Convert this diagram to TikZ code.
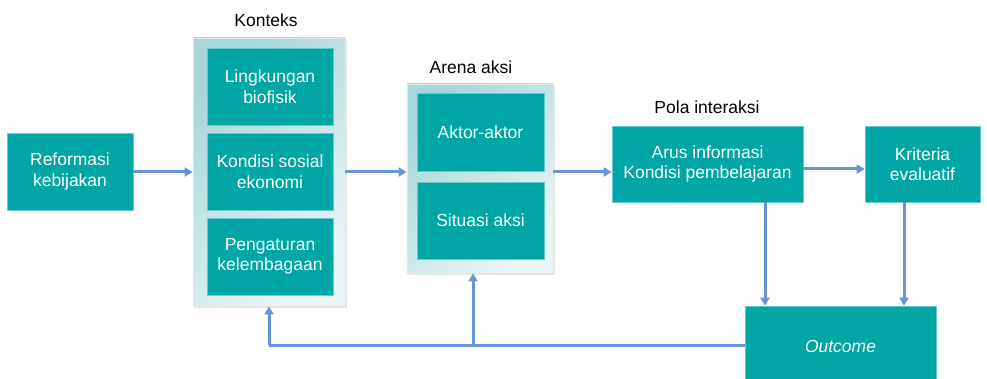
\documentclass[tikz,border=0pt]{standalone}
\usepackage{fontspec}
\setmainfont{Liberation Sans}
\usetikzlibrary{arrows.meta}
\definecolor{teal1}{HTML}{00A6A6}
\definecolor{arrowc}{HTML}{6A93D6}
\definecolor{panelA}{HTML}{A8D7DA}
\definecolor{panelB}{HTML}{EAF5F6}
\tikzset{
  box/.style={fill=teal1, draw=teal1!60!white, line width=0.6pt, text=white, align=center,
    font=\fontsize{17.5}{20.5}\selectfont, inner sep=0pt},
  panel/.style={left color=panelA, right color=panelB, shading angle=45, draw=black!10, line width=0.8pt, inner sep=0pt},
  ttl/.style={font=\fontsize{17.5}{20}\selectfont, text=black},
  conn/.style={draw=arrowc, line width=3pt, -{Triangle[length=8pt,width=9pt]}},
  line/.style={draw=arrowc, line width=3pt}
}
\begin{document}
\begin{tikzpicture}[x=1pt,y=-1pt]
\useasboundingbox (0,0) rectangle (987,379);
\clip (0,0) rectangle (987,379);
% panels
\fill[black!10] (195,40) rectangle (347,308);
\node[panel, minimum width=152pt, minimum height=268pt] (konteks) at (269,172) {};
\fill[black!10] (409,86) rectangle (555,275);
\node[panel, minimum width=146pt, minimum height=189pt] (arena) at (480,178.5) {};
% titles
\node[ttl] (tk) at (266,20) {Konteks};
\node[ttl] (ta) at (471,67) {Arena aksi};
\node[ttl] (tp) at (707,107) {Pola interaksi};
% boxes
\node[box, minimum width=126pt, minimum height=77pt] (ref) at (70,171.5) {Reformasi\\kebijakan};
\node[box, minimum width=126pt, minimum height=77pt] (k1) at (270,86.5) {Lingkungan\\biofisik};
\node[box, minimum width=126pt, minimum height=77pt] (k2) at (270,171.5) {Kondisi sosial\\ekonomi};
\node[box, minimum width=126pt, minimum height=77pt] (k3) at (270,256.5) {Pengaturan\\kelembagaan};
\node[box, minimum width=127pt, minimum height=78pt] (a1) at (480.5,132) {Aktor-aktor};
\node[box, minimum width=127pt, minimum height=77pt] (a2) at (480.5,220.5) {Situasi aksi};
\node[box, minimum width=191pt, minimum height=76pt] (pola) at (707.5,164) {Arus informasi\\Kondisi pembelajaran};
\node[box, minimum width=115pt, minimum height=76pt] (krit) at (922.5,164) {Kriteria\\evaluatif};
\node[box, minimum width=191pt, minimum height=80pt] (out) at (840.5,346) {\itshape Outcome};
% connectors
\draw[conn] (ref.east |- 0,172) -- (konteks.west |- 0,172);
\draw[conn] (konteks.east |- 0,172) -- (arena.west |- 0,172);
\draw[conn] (arena.east |- 0,172) -- (pola.west |- 0,172);
\draw[conn] (pola.east |- 0,169) -- (krit.west |- 0,169);
\draw[conn] (pola.south -| 765,0) -- (out.north -| 765,0);
\draw[conn] (krit.south -| 904,0) -- (out.north -| 904,0);
\coordinate (fb1) at (269,345);
\coordinate (fb2) at (473,345);
\draw[line] (out.west |- 0,345) -- (fb1);
\draw[conn] (fb1) -- (konteks.south);
\draw[conn] (fb2) -- (arena.south -| fb2);
\end{tikzpicture}
\end{document}
